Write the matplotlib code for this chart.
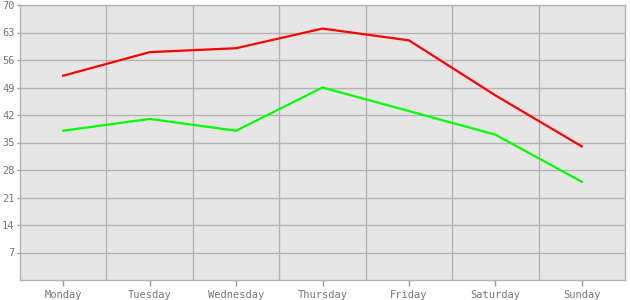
import numpy as np
import matplotlib
matplotlib.use("Agg")
import matplotlib.pyplot as plt

days = ["Monday", "Tuesday", "Wednesday", "Thursday", "Friday", "Saturday", "Sunday"]
red_vals = [52, 58, 59, 64, 61, 47, 34]
green_vals = [38, 41, 38, 49, 43, 37, 25]
y_ticks = [7, 14, 21, 28, 35, 42, 49, 56, 63, 70]

plt.rcParams['font.family'] = ['DejaVu Sans Mono']

fig = plt.figure(figsize=(6.3, 3), dpi=100)
ax = fig.add_axes([20 / 630, 20 / 300, 605 / 630, 275 / 300])
ax.set_facecolor("#e6e6e6")

x = np.arange(len(days))
ax.plot(x, red_vals, color="#ff0000", lw=1.6, zorder=3)
ax.plot(x, green_vals, color="#00ff00", lw=1.6, zorder=3)

ax.set_xlim(-0.5, len(days) - 0.5)
ax.set_ylim(0, 70)

# gridlines between categories
for b in np.arange(0.5, len(days) - 0.5, 1):
    ax.axvline(b, color="#b3b3b3", lw=1, zorder=1)
for t in y_ticks:
    ax.axhline(t, color="#b3b3b3", lw=1, zorder=1)

ax.set_xticks(x)
ax.set_xticklabels(days)
ax.set_yticks(y_ticks)
ax.tick_params(axis="x", colors="#999999", labelcolor="#777777", labelsize=7.5, length=4, width=1, pad=3)
ax.tick_params(axis="y", colors="#999999", labelcolor="#777777", labelsize=7.5, length=2, width=1, pad=2)

for side in ["left", "bottom", "right", "top"]:
    ax.spines[side].set_color("#b3b3b3")
    ax.spines[side].set_linewidth(1)

fig.savefig("out.png", dpi=100, facecolor="white")
